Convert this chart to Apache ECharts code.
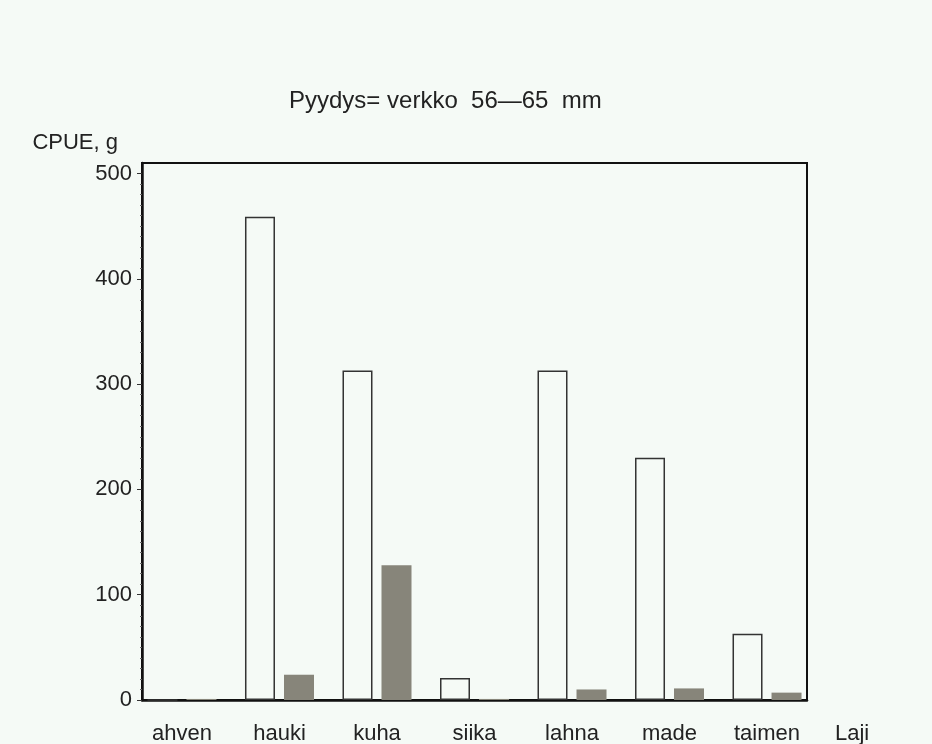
<!DOCTYPE html>
<html>
<head>
<meta charset="utf-8">
<script src="https://cdn.jsdelivr.net/npm/echarts@6/dist/echarts.min.js"></script>
<style>
html,body{margin:0;padding:0;background:#f5faf6;}
#c{width:932px;height:744px;}
</style>
</head>
<body>
<div id="c"></div>
<script>
const categories = ['ahven', 'hauki', 'kuha', 'siika', 'lahna', 'made', 'taimen'];
const seriesA = [0, 459, 313, 21, 313, 230, 63];
const seriesB = [1, 24, 128, 1, 10, 11, 7];
const yTicks = [0, 100, 200, 300, 400, 500];

const FONT = 'Liberation Sans, Arial, sans-serif';
const chart = echarts.init(document.getElementById('c'), null, {renderer: 'canvas'});
const idx = categories.map((c, i) => i);

chart.setOption({
  backgroundColor: '#f5faf6',
  animation: false,
  title: {
    text: 'Pyydys= verkko  56\u201465  mm',
    left: 284,
    top: 84,
    textStyle: {fontFamily: FONT, fontSize: 24, fontWeight: 'normal', color: '#222'}
  },
  grid: {
    left: 142, right: 125, top: 163, bottom: 44,
    outerBoundsMode: 'none',
    containLabel: false,
    show: true, borderColor: '#111', borderWidth: 2, backgroundColor: 'transparent'
  },
  xAxis: {
    type: 'value',
    min: -0.41, max: 6.41,
    name: 'Laji',
    nameLocation: 'end',
    nameGap: 28,
    nameTextStyle: {fontFamily: FONT, fontSize: 22, color: '#222', verticalAlign: 'top', align: 'left', padding: [23, 0, 0, 0]},
    axisLine: {show: true, onZero: false, lineStyle: {color: '#111', width: 2.5}},
    axisTick: {show: false},
    splitLine: {show: false},
    axisLabel: {
      customValues: idx,
      formatter: v => categories[Math.round(v)] || '',
      fontFamily: FONT, fontSize: 22, color: '#222', margin: 23
    }
  },
  yAxis: {
    type: 'value',
    min: 0, max: 510, interval: 100,
    name: 'CPUE, g',
    nameLocation: 'end',
    nameGap: 20,
    nameTextStyle: {fontFamily: FONT, fontSize: 22, color: '#222', align: 'right', verticalAlign: 'middle', padding: [0, 24, 0, 0]},
    axisLine: {show: true, onZero: false, lineStyle: {color: '#111', width: 2.5}},
    axisTick: {show: true, inside: false, length: 5, lineStyle: {color: '#333', width: 1}, customValues: yTicks},
    minorTick: {show: true, splitNumber: 10, length: 2, lineStyle: {color: '#666', width: 1}},
    splitLine: {show: false},
    axisLabel: {
      customValues: yTicks,
      fontFamily: FONT, fontSize: 22, color: '#222', margin: 10
    }
  },
  series: [
    {
      type: 'bar',
      data: idx.map(i => [i, seriesA[i]]),
      barWidth: 30,
      barGap: '30%',
      itemStyle: {color: 'rgba(0,0,0,0)', borderColor: '#333', borderWidth: 1.5}
    },
    {
      type: 'bar',
      data: idx.map(i => [i, seriesB[i]]),
      barWidth: 30,
      barGap: '30%',
      itemStyle: {color: '#87857a', borderWidth: 0}
    }
  ]
});
</script>
</body>
</html>
